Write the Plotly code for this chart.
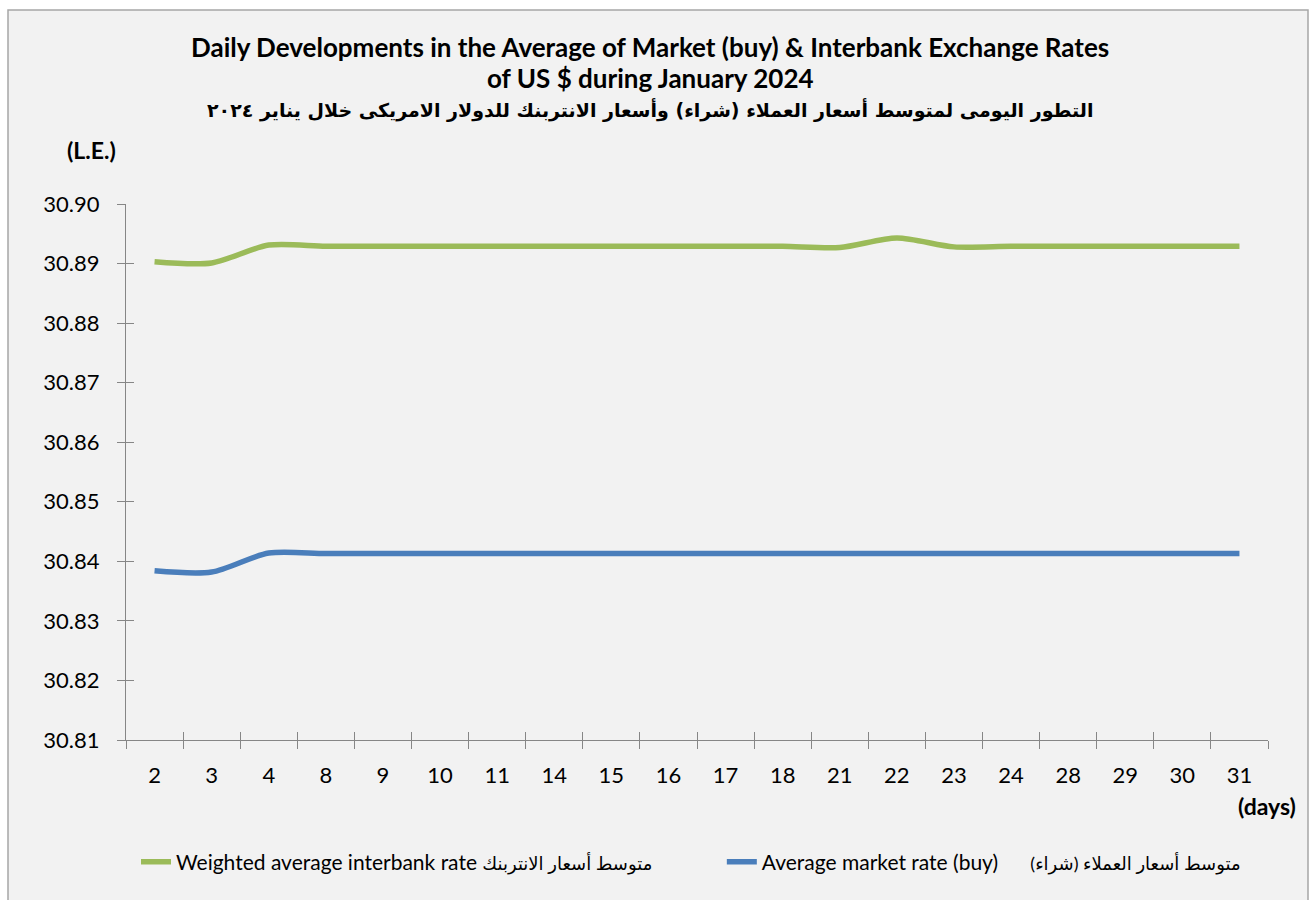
import plotly.graph_objects as go

days = ['2', '3', '4', '8', '9', '10', '11', '14', '15', '16',
        '17', '18', '21', '22', '23', '24', '28', '29', '30', '31']

interbank = [30.8903, 30.8901, 30.8931, 30.8929, 30.8929, 30.8929, 30.8929, 30.8929, 30.8929, 30.8929,
             30.8929, 30.8929, 30.8927, 30.8943, 30.8928, 30.8929, 30.8929, 30.8929, 30.8929, 30.8929]

market = [30.8384, 30.8382, 30.8414, 30.8413, 30.8413, 30.8413, 30.8413, 30.8413, 30.8413, 30.8413,
          30.8413, 30.8413, 30.8413, 30.8413, 30.8413, 30.8413, 30.8413, 30.8413, 30.8413, 30.8413]

NBSP = '\u00a0'
AR = '<span style="font-size:18px">%s</span>'
name_interbank = 'Weighted average interbank rate ' + AR % 'متوسط أسعار الانتربنك' + NBSP * 12
name_market = 'Average market rate (buy)' + NBSP * 5 + ' ' + AR % 'متوسط أسعار العملاء (شراء)'

LATIN = 'Lato, Open Sans, sans-serif'
AXIS_GREY = '#868686'

fig = go.Figure()

fig.add_trace(go.Scatter(
    x=days, y=interbank, name=name_interbank, mode='lines',
    line=dict(color='#9bbb59', width=5.5, shape='spline', smoothing=0.8),
))
fig.add_trace(go.Scatter(
    x=days, y=market, name=name_market, mode='lines',
    line=dict(color='#4a7ebb', width=5.5, shape='spline', smoothing=0.8),
))
# invisible trace so the overlay axes (inner half of the crossing ticks) get drawn
fig.add_trace(go.Scatter(
    x=days, y=market, xaxis='x2', yaxis='y2', mode='lines',
    line=dict(width=0), opacity=0, showlegend=False, hoverinfo='skip',
))

fig.update_layout(
    width=1313, height=900,
    margin=dict(l=126, r=45, t=204, b=160, autoexpand=False),
    paper_bgcolor='white',
    plot_bgcolor='rgba(0,0,0,0)',
    font=dict(family=LATIN, size=22, color='black'),
    showlegend=True,
    legend=dict(
        orientation='h', x=(136 - 126) / 1142, xanchor='left',
        y=(740 - 862) / 536, yanchor='middle',
        font=dict(family='Lato, DejaVu Sans, sans-serif', size=21),
        bgcolor='rgba(0,0,0,0)',
    ),
    xaxis=dict(
        type='category', range=[-0.5, 19.5], tickson='boundaries',
        ticks='outside', ticklen=8, tickcolor=AXIS_GREY, tickwidth=1.3,
        showline=True, linecolor=AXIS_GREY, linewidth=1.3,
        showgrid=False, zeroline=False,
        tickfont=dict(size=22), ticklabelstandoff=15,
    ),
    yaxis=dict(
        range=[30.81, 30.90], dtick=0.01, tickformat='.2f',
        ticks='outside', ticklen=8, tickcolor=AXIS_GREY, tickwidth=1.3,
        showline=True, linecolor=AXIS_GREY, linewidth=1.3,
        showgrid=False, zeroline=False,
        tickfont=dict(size=22), ticklabelstandoff=13,
    ),
    xaxis2=dict(
        type='category', overlaying='x', range=[-0.5, 19.5], tickson='boundaries',
        ticks='inside', ticklen=8, tickcolor=AXIS_GREY, tickwidth=1.3,
        showticklabels=False, showline=False, showgrid=False, zeroline=False,
    ),
    yaxis2=dict(
        overlaying='y', range=[30.81, 30.90], dtick=0.01,
        ticks='inside', ticklen=8, tickcolor=AXIS_GREY, tickwidth=1.3,
        showticklabels=False, showline=False, showgrid=False, zeroline=False,
    ),
)

# grey chart panel with border
fig.add_shape(
    type='rect', xref='paper', yref='paper', layer='below',
    x0=(8 - 126) / 1142, x1=(1308 - 126) / 1142,
    y0=(740 - 910) / 536, y1=(740 - 10) / 536,
    fillcolor='#f2f2f2', line=dict(color='#a6a6a6', width=1.5),
)

annotations = [
    dict(text='<b>Daily Developments in the Average of Market (buy) &amp; Interbank Exchange Rates</b>',
         x=650, y=47, font=dict(family=LATIN, size=26)),
    dict(text='<b>of US $ during January 2024</b>',
         x=650, y=78, font=dict(family=LATIN, size=26)),
    dict(text='<b>التطور اليومى لمتوسط أسعار العملاء (شراء) وأسعار الانتربنك للدولار الامريكى خلال يناير ٢٠٢٤</b>',
         x=650, y=110, font=dict(family='DejaVu Sans, sans-serif', size=19)),
    dict(text='<b>(L.E.)</b>', x=91, y=150, font=dict(family=LATIN, size=23)),
]
for a in annotations:
    fig.add_annotation(
        text=a['text'], xref='paper', yref='paper',
        x=(a['x'] - 126) / 1142, y=(740 - a['y']) / 536,
        xanchor='center', yanchor='middle', showarrow=False, font=a['font'],
    )
fig.add_annotation(
    text='<b>(days)</b>', xref='paper', yref='paper',
    x=(1298 - 126) / 1142, y=(740 - 806) / 536,
    xanchor='right', yanchor='middle', showarrow=False,
    font=dict(family=LATIN, size=23),
)

fig.write_html('out.html', config={'displayModeBar': False},
               post_script="document.body.style.margin='0';")
